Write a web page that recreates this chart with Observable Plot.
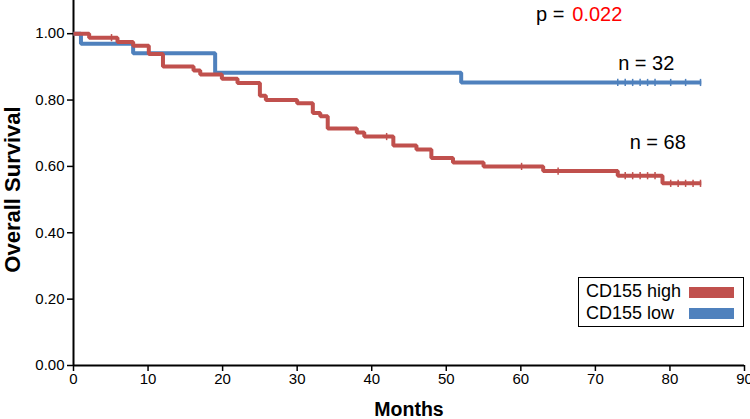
<!DOCTYPE html>
<html>
<head>
<meta charset="utf-8">
<script src="https://cdn.jsdelivr.net/npm/d3@7"></script>
<script src="https://cdn.jsdelivr.net/npm/@observablehq/plot@0.6"></script>
<style>
  html, body { margin: 0; padding: 0; background: #fff; }
  #wrap { position: relative; width: 750px; height: 419px; font-family: "Liberation Sans", Arial, sans-serif; }
  #legend { position: absolute; left: 578px; top: 277px; width: 166px; height: 50px; box-sizing: border-box; border: 1.5px solid #000; background: #fff; }
  #legend .lab { position: absolute; left: 7px; font-size: 18px; line-height: 18px; white-space: nowrap; color: #000; }
  #legend .sw { position: absolute; left: 110px; width: 45px; height: 11px; }
</style>
</head>
<body>
<div id="wrap"></div>
<script>
// ---- Data ----
const seriesNames = ["CD155 high", "CD155 low"];
const seriesColors = ["#C0504D", "#4F81BD"];

// CD155 low (n = 32): step times (months) and survival
const lowTimes = [0, 1.0, 8.0, 19.0, 52.0, 84.2];
const lowSurv  = [1.000, 0.970, 0.941, 0.882, 0.853, 0.853];
const lowCensor = [73.0, 74.0, 75.0, 76.0, 77.0, 78.0, 80.1, 82.1, 84.1];

// CD155 high (n = 68)
const highTimes = [0, 2.1, 5.9, 8.0, 10.1, 12.0, 16.1, 17.0, 19.9, 22.0, 25.0, 25.8, 30.0, 32.1, 33.1, 34.1, 38.0, 39.0, 42.9, 46.0, 48.0, 50.9, 55.0, 63.0, 73.0, 79.0, 84.2];
const highSurv  = [1.000, 0.988, 0.975, 0.964, 0.939, 0.901, 0.889, 0.877, 0.864, 0.851, 0.813, 0.800, 0.790, 0.761, 0.751, 0.714, 0.702, 0.690, 0.663, 0.651, 0.625, 0.612, 0.600, 0.586, 0.572, 0.549, 0.549];
const highCensor = [5.1, 42.0, 60.1, 65.0, 74.0, 75.0, 76.0, 77.0, 78.0, 80.1, 81.1, 82.1, 83.1, 84.1];

const xTicks = [0, 10, 20, 30, 40, 50, 60, 70, 80, 90];
const yTicks = [0, 0.2, 0.4, 0.6, 0.8, 1.0];

// annotations: [text, month, survival, anchor, color]
const annoText   = ["p =", "0.022", "n = 32", "n = 68"];
const annoX      = [65.85, 66.9, 73.05, 74.6];
const annoY      = [1.037, 1.037, 0.892, 0.651];
const annoAnchor = ["end", "start", "start", "start"];
const annoColor  = ["#000000", "#FF0000", "#000000", "#000000"];

// ---- Build tables ----
function steps(times, surv, group) {
  return times.map((t, i) => ({t, s: surv[i], group}));
}
function levelAt(times, surv, t) {
  let v = surv[0];
  for (let i = 0; i < times.length; i++) if (times[i] <= t) v = surv[i];
  return v;
}
const lowData = steps(lowTimes, lowSurv, seriesNames[1]);
const highData = steps(highTimes, highSurv, seriesNames[0]);
const censorData = [
  ...lowCensor.map(t => ({t, s: levelAt(lowTimes, lowSurv, t), group: seriesNames[1]})),
  ...highCensor.map(t => ({t, s: levelAt(highTimes, highSurv, t), group: seriesNames[0]}))
];
const annos = annoText.map((text, i) => ({text, x: annoX[i], y: annoY[i], anchor: annoAnchor[i], color: annoColor[i]}));

const vbar = {
  draw(context, size) {
    const r = Math.sqrt(size / Math.PI);
    context.moveTo(0, -r);
    context.lineTo(0, r);
  }
};

const font = "'Liberation Sans', Arial, sans-serif";

const chart = Plot.plot({
  width: 750,
  height: 419,
  marginLeft: 73,
  marginRight: 6,
  marginTop: 0,
  marginBottom: 54,
  style: {fontFamily: font, fontSize: "15px", color: "#000", background: "#fff"},
  x: {domain: [0, 90]},
  y: {domain: [0, 1.1]},
  color: {domain: seriesNames, range: seriesColors},
  marks: [
    Plot.axisX({ticks: xTicks, tickSize: 6, tickPadding: 2, label: null, fontSize: 15, stroke: "#000", strokeWidth: 1.5}),
    Plot.axisY({ticks: yTicks, tickSize: 6, tickPadding: 3, tickFormat: d3.format(".2f"), label: null, fontSize: 15, stroke: "#000", strokeWidth: 1.5}),
    Plot.ruleX([0], {stroke: "#000", strokeWidth: 2}),
    Plot.ruleY([0], {stroke: "#000", strokeWidth: 2}),
    Plot.line(lowData, {x: "t", y: "s", curve: "step-after", stroke: seriesColors[1], strokeWidth: 4, strokeLinejoin: "miter", strokeLinecap: "butt"}),
    Plot.line(highData, {x: "t", y: "s", curve: "step-after", stroke: seriesColors[0], strokeWidth: 4, strokeLinejoin: "miter", strokeLinecap: "butt"}),
    Plot.dot(censorData, {x: "t", y: "s", symbol: vbar, r: 3.6, stroke: "group", strokeWidth: 1.5, fill: "none"}),
    Plot.text(annos.filter(d => d.anchor === "end"), {x: "x", y: "y", text: "text", textAnchor: "end", lineAnchor: "bottom", fill: "color", fontSize: 20}),
    Plot.text(annos.filter(d => d.anchor === "start"), {x: "x", y: "y", text: "text", textAnchor: "start", lineAnchor: "bottom", fill: "color", fontSize: 20}),
    Plot.text(["Months"], {frameAnchor: "bottom", lineAnchor: "bottom", textAnchor: "middle", dy: 50.5, fontSize: 19.5, fontWeight: "bold", fill: "#000"}),
    Plot.text(["Overall Survival"], {frameAnchor: "left", lineAnchor: "bottom", textAnchor: "middle", rotate: -90, dx: -54, dy: 6.5, fontSize: 22, fontWeight: "bold", fill: "#000"})
  ]
});

const wrap = document.getElementById("wrap");
wrap.appendChild(chart);

// Legend
const legend = document.createElement("div");
legend.id = "legend";
seriesNames.forEach((name, i) => {
  const lab = document.createElement("div");
  lab.className = "lab";
  lab.style.top = (4 + i * 21.6) + "px";
  lab.textContent = name;
  const sw = document.createElement("div");
  sw.className = "sw";
  sw.style.top = (8.5 + i * 21.5) + "px";
  sw.style.background = seriesColors[i];
  legend.appendChild(lab);
  legend.appendChild(sw);
});
wrap.appendChild(legend);
</script>
</body>
</html>
